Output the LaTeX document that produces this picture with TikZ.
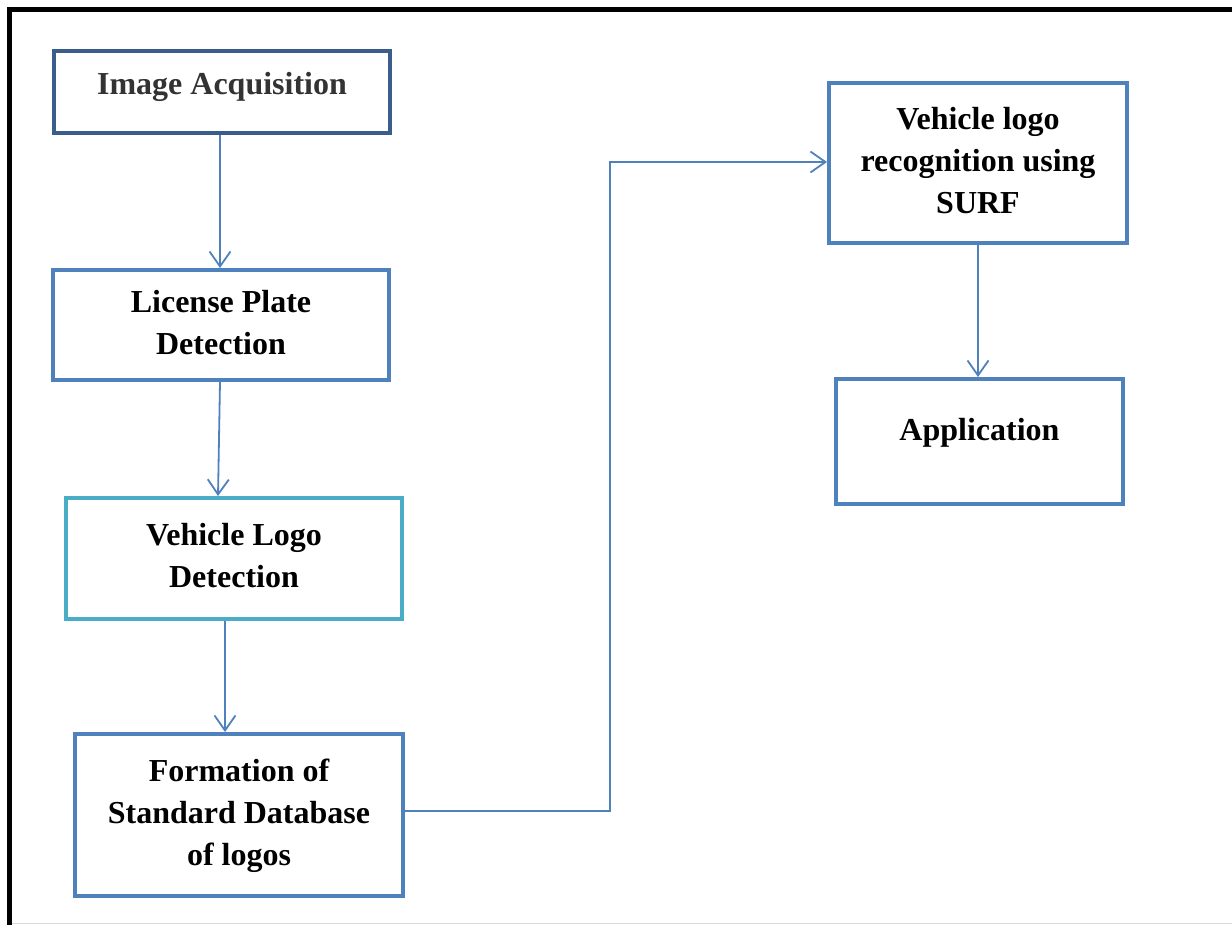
\documentclass[tikz,border=0pt]{standalone}
\usepackage{fontspec}
\setmainfont{Liberation Serif}
\usetikzlibrary{arrows.meta}
\definecolor{boxblue}{HTML}{4F81BD}
\definecolor{darkblue}{HTML}{3A5D8C}
\definecolor{tealc}{HTML}{4BACC6}
\definecolor{txtgrey}{HTML}{333333}
\begin{document}
\begin{tikzpicture}[x=1pt,y=-1pt,
  stagebox/.style={draw=boxblue,line width=4pt,fill=white,inner sep=0pt,align=center,font=\fontsize{32}{42}\selectfont\bfseries},
  flow/.style={draw=boxblue,line width=1.8pt,-{Straight Barb[length=15pt,width=21pt,line width=1.8pt]}}]
\useasboundingbox (0,0) rectangle (1232,925);
\draw[line width=5pt,black] (9.5,925) -- (9.5,9.5) -- (1232,9.5);
\draw[line width=1pt,black!15] (12,923.5) -- (1232,923.5);
\node[stagebox,draw=darkblue,text=txtgrey,minimum width=336pt,minimum height=82pt] (ia) at (222,92) {\raisebox{18pt}{Image Acquisition}};
\node[stagebox,minimum width=336pt,minimum height=110pt] (lp) at (221,325) {\raisebox{1pt}{\begin{tabular}{c}License Plate\\Detection\end{tabular}}};
\node[stagebox,draw=tealc,minimum width=336pt,minimum height=121pt] (vl) at (234,558.5) {\raisebox{15pt}{\begin{tabular}{c}Vehicle Logo\\Detection\end{tabular}}};
\node[stagebox,minimum width=328pt,minimum height=162pt] (fd) at (239,815) {\raisebox{5pt}{\begin{tabular}{c}Formation of\\Standard Database\\of logos\end{tabular}}};
\node[stagebox,minimum width=298pt,minimum height=160pt] (vr) at (978,163) {\raisebox{7pt}{\begin{tabular}{c}Vehicle logo\\recognition using\\SURF\end{tabular}}};
\node[stagebox,minimum width=287pt,minimum height=125pt] (ap) at (979.5,441.5) {\raisebox{24pt}{Application}};
\draw[flow] (ia.south -| 220,0) -- (lp.north -| 220,0);
\draw[flow] (lp.south -| 220,0) -- (vl.north -| 218,0);
\draw[flow] (vl.south -| 225,0) -- (fd.north -| 225,0);
\coordinate (c1) at (610,811);
\coordinate (c2) at (610,162);
\draw[flow] (fd.east |- c1) -- (c1) -- (c2) -- (vr.west |- c2);
\draw[flow] (vr.south -| 978,0) -- (ap.north -| 978,0);
\end{tikzpicture}
\end{document}
